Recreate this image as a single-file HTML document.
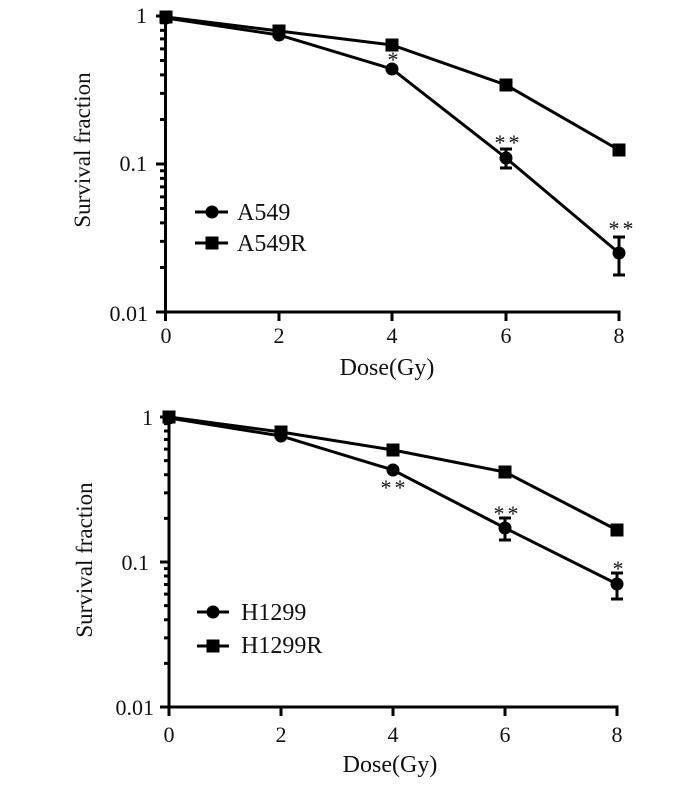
<!DOCTYPE html>
<html><head><meta charset="utf-8"><style>
html,body{margin:0;padding:0;background:#fff;}
svg{display:block;}
text{font-family:"Liberation Serif","Times New Roman",serif;fill:#111;}
</style></head><body>
<svg width="700" height="786" viewBox="0 0 700 786" xmlns="http://www.w3.org/2000/svg">
<g stroke="#000" stroke-width="3" fill="none">
<!-- TOP axes -->
<path d="M165.5 15 V313.5 M164 312 H620.5"/>
<path d="M156 16 H165 M156 164 H165 M156 312 H165"/>
<path d="M160 119.45H165M160 93.39H165M160 74.9H165M160 60.55H165M160 48.83H165M160 38.93H165M160 30.34H165M160 22.77H165
M160 267.45H165M160 241.39H165M160 222.9H165M160 208.55H165M160 196.83H165M160 186.93H165M160 178.34H165M160 170.77H165"/>
<path d="M165.5 312V321 M279 312V321 M392 312V321 M506 312V321 M619 312V321"/>
<!-- top series -->
<polyline points="166,17 279,31 392,45 506,85 619,150"/>
<polyline points="166,18 279,35 392,69 506,158 619,253"/>
<path d="M506 149V168 M500 149H512 M500 168H512 M619 237V275 M613 237H625 M613 275H625"/>
<path d="M195 212H228 M195 243H228"/>
<!-- BOTTOM axes -->
<path d="M169 416 V708.5 M167.5 707 H618.5"/>
<path d="M160 417 H169 M160 562 H169 M160 707 H169"/>
<path d="M164 518.35H169M164 492.82H169M164 474.7H169M164 460.65H169M164 449.17H169M164 439.46H169M164 431.05H169M164 423.64H169
M164 663.35H169M164 637.82H169M164 619.7H169M164 605.65H169M164 594.17H169M164 584.46H169M164 576.05H169M164 568.64H169"/>
<path d="M169 707V716 M281 707V716 M393 707V716 M505 707V716 M617 707V716"/>
<polyline points="169,417 281,432 393,450 505,472 617,530"/>
<polyline points="169,418 281,436 393,470 505,528 617,584"/>
<path d="M505 518V540 M499 518H511 M499 540H511 M617 573V599 M611 573H623 M611 599H623"/>
<path d="M197 612H229 M197 646H229"/>
</g>
<g fill="#000">
<!-- top markers -->
<circle cx="166" cy="18" r="6.5"/><circle cx="279" cy="35" r="6.5"/><circle cx="392" cy="69" r="6.5"/><circle cx="506" cy="158" r="6.5"/><circle cx="619" cy="253" r="6.5"/>
<rect x="159.5" y="10.5" width="13" height="13"/><rect x="272.5" y="24.5" width="13" height="13"/><rect x="385.5" y="38.5" width="13" height="13"/><rect x="499.5" y="78.5" width="13" height="13"/><rect x="612.5" y="143.5" width="13" height="13"/>
<circle cx="212" cy="212" r="6.5"/><rect x="205.5" y="236.5" width="13" height="13"/>
<!-- bottom markers -->
<circle cx="169" cy="418" r="6.5"/><circle cx="281" cy="436" r="6.5"/><circle cx="393" cy="470" r="6.5"/><circle cx="505" cy="528" r="6.5"/><circle cx="617" cy="584" r="6.5"/>
<rect x="162.5" y="410.5" width="13" height="13"/><rect x="274.5" y="425.5" width="13" height="13"/><rect x="386.5" y="443.5" width="13" height="13"/><rect x="498.5" y="465.5" width="13" height="13"/><rect x="610.5" y="523.5" width="13" height="13"/>
<circle cx="213" cy="612" r="6.5"/><rect x="206.5" y="639.5" width="13" height="13"/>
</g>
<!-- top text -->
<g font-size="22">
<text x="147" y="23" text-anchor="end">1</text>
<text x="147" y="171" text-anchor="end">0.1</text>
<text x="148" y="321" text-anchor="end">0.01</text>
<text x="166" y="343" text-anchor="middle">0</text>
<text x="279" y="343" text-anchor="middle">2</text>
<text x="392" y="343" text-anchor="middle">4</text>
<text x="506" y="343" text-anchor="middle">6</text>
<text x="619" y="343" text-anchor="middle">8</text>
</g>
<g font-size="22">
<text x="393" y="67" text-anchor="middle">*</text>
<text x="508.5" y="150" text-anchor="middle" letter-spacing="3">**</text>
<text x="622.5" y="236" text-anchor="middle" letter-spacing="3">**</text>
</g>
<text x="237" y="220" font-size="24">A549</text>
<text x="237" y="251" font-size="24">A549R</text>
<text x="387" y="375" font-size="24" text-anchor="middle">Dose(Gy)</text>
<text transform="translate(90,150) rotate(-90)" font-size="23" text-anchor="middle">Survival fraction</text>
<!-- bottom text -->
<g font-size="22">
<text x="153" y="425" text-anchor="end">1</text>
<text x="149" y="570" text-anchor="end">0.1</text>
<text x="154" y="715" text-anchor="end">0.01</text>
<text x="169" y="742" text-anchor="middle">0</text>
<text x="281" y="742" text-anchor="middle">2</text>
<text x="393" y="742" text-anchor="middle">4</text>
<text x="505" y="742" text-anchor="middle">6</text>
<text x="617" y="742" text-anchor="middle">8</text>
</g>
<g font-size="22">
<text x="394.5" y="495" text-anchor="middle" letter-spacing="3">**</text>
<text x="507.5" y="521" text-anchor="middle" letter-spacing="3">**</text>
<text x="618" y="576" text-anchor="middle">*</text>
</g>
<text x="241" y="620" font-size="24">H1299</text>
<text x="241" y="653" font-size="24">H1299R</text>
<text x="390" y="772" font-size="24" text-anchor="middle">Dose(Gy)</text>
<text transform="translate(92,560) rotate(-90)" font-size="23" text-anchor="middle">Survival fraction</text>
</svg>
</body></html>
